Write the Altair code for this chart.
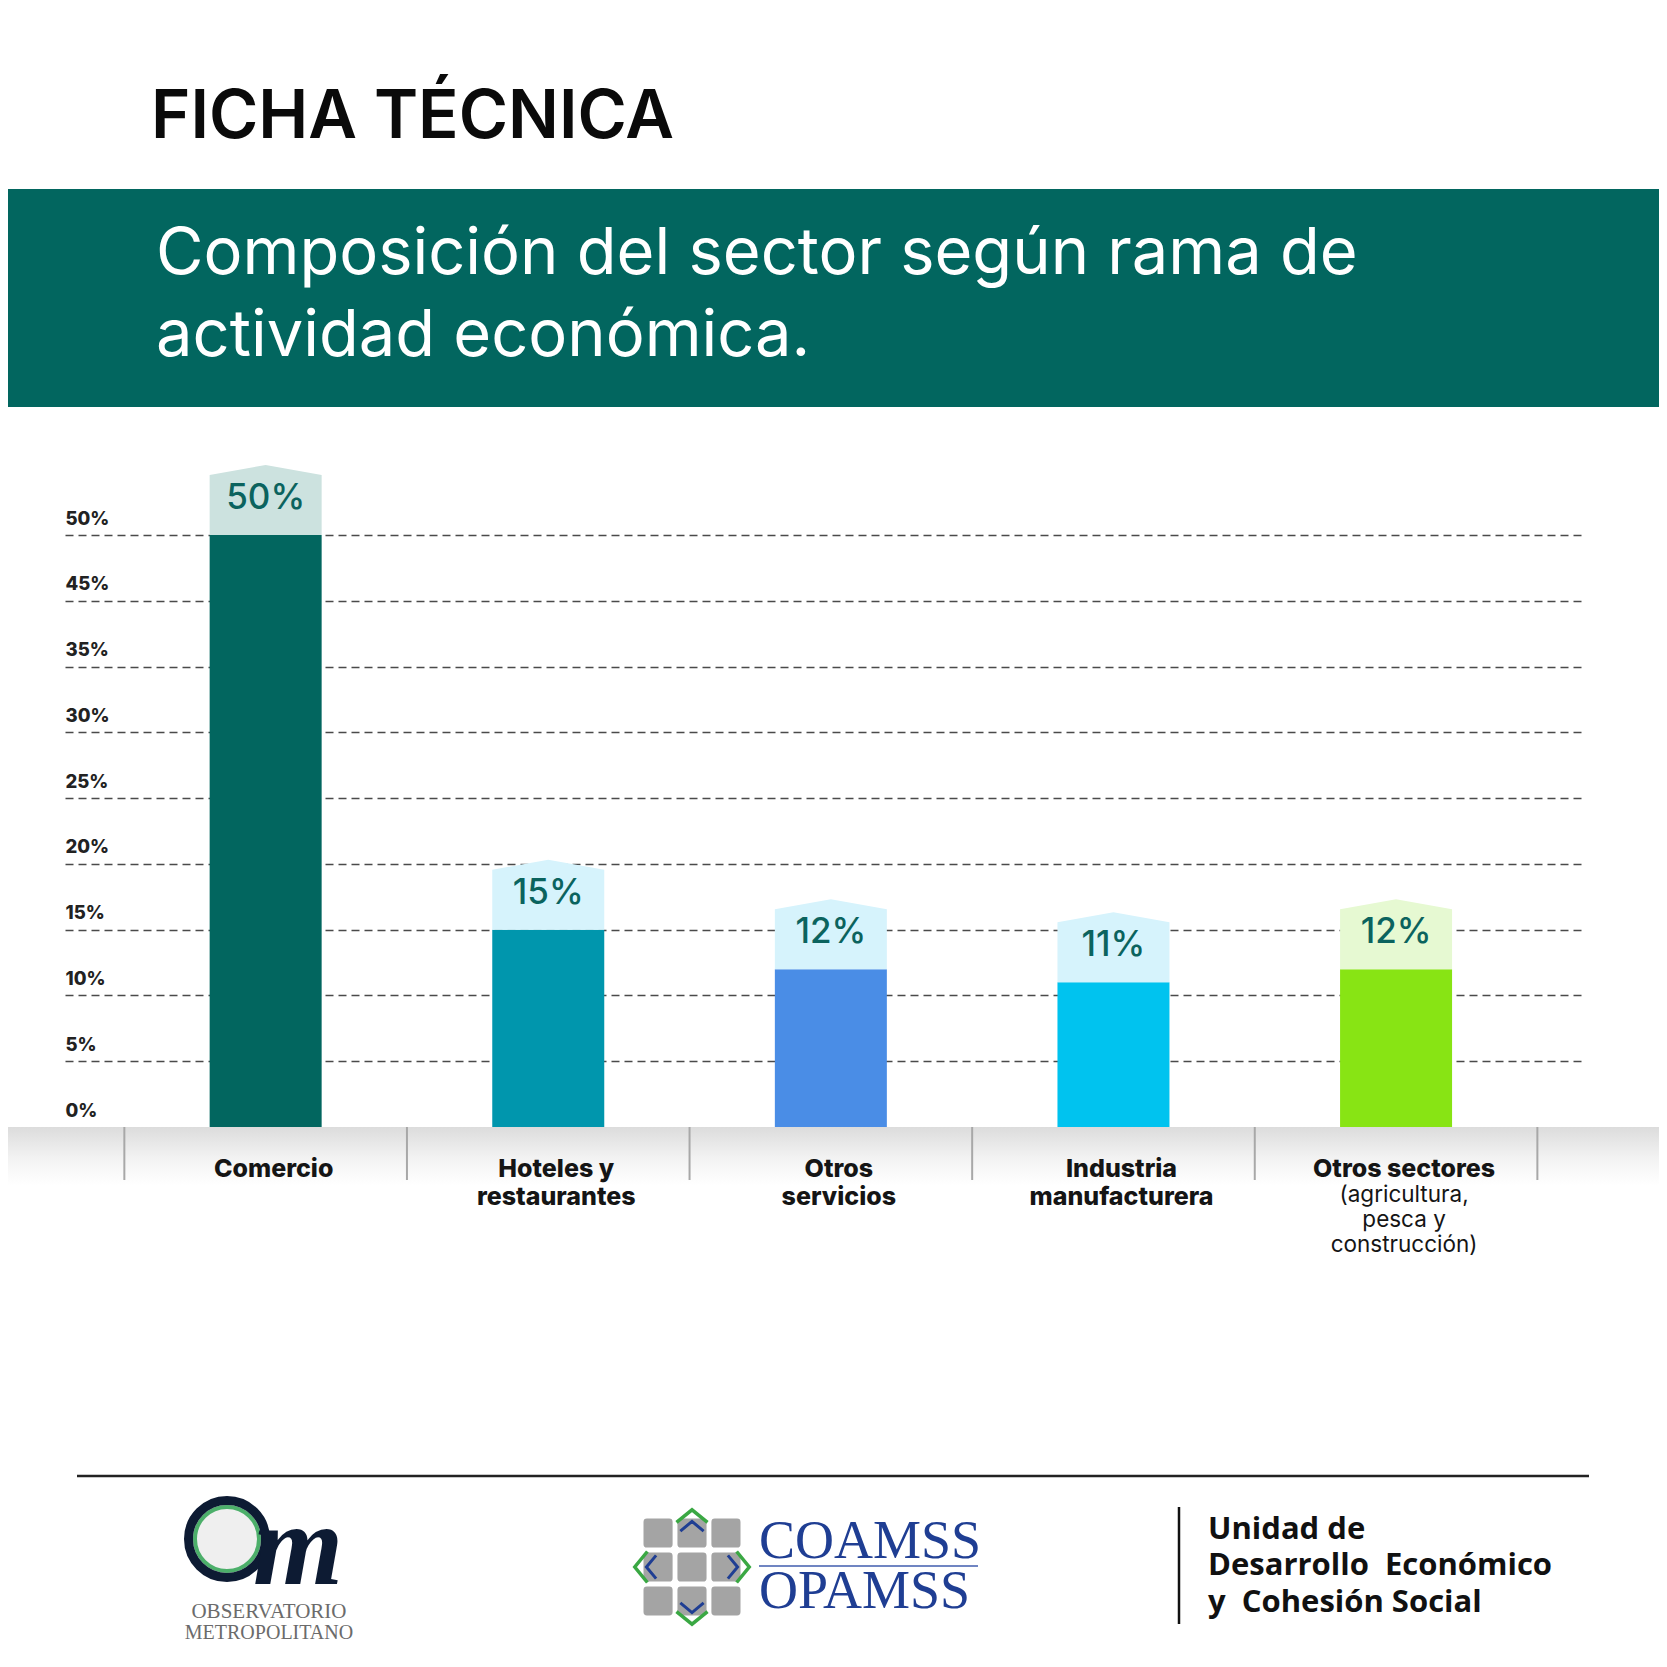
import altair as alt
import pandas as pd

# ---------------- data ----------------
categories = ["Comercio", "Hoteles y restaurantes", "Otros servicios",
              "Industria manufacturera", "Otros sectores"]
values = [50, 15, 12, 11, 12]
value_labels = ["50%", "15%", "12%", "11%", "12%"]
label_line1 = ["Comercio", "Hoteles y", "Otros", "Industria", "Otros sectores"]
label_line2 = ["", "restaurantes", "servicios", "manufacturera", ""]
note_line1 = ["", "", "", "", "(agricultura,"]
note_line2 = ["", "", "", "", "pesca y"]
note_line3 = ["", "", "", "", "construcción)"]
y_ticks = [0, 5, 10, 15, 20, 25, 30, 35, 45, 50]

header_title = "FICHA TÉCNICA"
subtitle_1 = "Composición del sector según rama de"
subtitle_2 = "actividad económica."
footer_om_1 = "OBSERVATORIO"
footer_om_2 = "METROPOLITANO"
footer_co_1 = "COAMSS"
footer_co_2 = "OPAMSS"
footer_unit = ["Unidad de", "Desarrollo\u00a0 Económico", "y\u00a0 Cohesión Social"]

# ---------------- styles ----------------
bar_colors = ["#02665F", "#0096AD", "#4A8DE6", "#00C3EF", "#88E414"]
cap_colors = ["#CCE2DF", "#D6F3FC", "#D6F3FC", "#D6F3FC", "#E6F9D2"]
teal = "#02665F"
label_teal = "#0B635E"

W, H = 1519, 592
PAD_L, PAD_T = 57, 527
TOTAL_W, TOTAL_H = 1651, 1645
step = H / 9.0

df = pd.DataFrame({
    "cat": categories, "value": values, "vlabel": value_labels,
    "l1": label_line1, "l2": label_line2,
    "n1": note_line1, "n2": note_line2, "n3": note_line3,
})
one = pd.DataFrame({"k": [0]})

xscale = alt.Scale(domain=categories, paddingInner=0, paddingOuter=0.1875, align=0.56)
yscale = alt.Scale(domain=[0, 35, 45, 50], range=[H, H - 7 * step, H - 8 * step, 0], nice=False)

X = alt.X("cat:N", sort=categories, scale=xscale, axis=None)

base = alt.Chart(df)
left_edge = -PAD_L
right_edge = TOTAL_W - PAD_L

# shadow under the baseline
shadow = alt.Chart(one).mark_rect(
    color=alt.Gradient(gradient="linear",
                       stops=[alt.GradientStop(color="#dcdcdc", offset=0),
                              alt.GradientStop(color="#f3f3f3", offset=0.55),
                              alt.GradientStop(color="#ffffff", offset=1)],
                       x1=0, x2=0, y1=0, y2=1)
).encode(x=alt.value(left_edge), x2=alt.value(right_edge), y=alt.value(H), y2=alt.value(H + 58))

bars = base.mark_bar(width=112).encode(
    x=X,
    y=alt.Y("value:Q", scale=yscale,
            axis=alt.Axis(values=y_ticks, title=None, domain=False, ticks=False, tickSize=0,
                          labelAlign="left", labelBaseline="bottom", labelPadding=0,
                          labelOffset=-7, labelExpr="datum.value + '%'",
                          labelFont="Inter", labelFontSize=18.5, labelFontWeight=800,
                          labelColor="#222222",
                          grid=True, gridColor="#4a4a4a", gridWidth=1.3, gridDash=[8, 5],
                          gridOpacity={"condition": {"test": "datum.value === 0", "value": 0},
                                       "value": 1})),
    color=alt.Color("cat:N", scale=alt.Scale(domain=categories, range=bar_colors), legend=None),
)

cap_path = "M-1,0L1,0L1,-1.07L0,-1.25L-1,-1.07Z"
caps = base.mark_point(shape=cap_path, size=112 * 112, filled=True, opacity=1, strokeWidth=0).encode(
    x=X,
    y=alt.Y("value:Q", scale=yscale),
    fill=alt.Fill("cat:N", scale=alt.Scale(domain=categories, range=cap_colors), legend=None),
)

vtext = base.mark_text(font="Inter", fontSize=35, fontWeight=500, color=label_teal,
                       baseline="middle", dy=-37).encode(
    x=X, y=alt.Y("value:Q", scale=yscale), text="vlabel:N")

sep = base.mark_rule(color="#a8a8a8", strokeWidth=2).encode(
    x=alt.X("cat:N", sort=categories, scale=xscale, axis=None, bandPosition=0),
    y=alt.value(H), y2=alt.value(H + 53))
sep_end = base.transform_filter(alt.datum.cat == categories[-1]).mark_rule(
    color="#a8a8a8", strokeWidth=2).encode(
    x=alt.X("cat:N", sort=categories, scale=xscale, axis=None, bandPosition=1),
    y=alt.value(H), y2=alt.value(H + 53))

bold_kw = dict(font="Inter", fontSize=25, fontWeight=800, color="#151515", baseline="middle", dx=8)
reg_kw = dict(font="Inter", fontSize=22.5, fontWeight=400, color="#151515", baseline="middle", dx=8)
cl1 = base.mark_text(**bold_kw).encode(x=X, y=alt.value(H + 42), text="l1:N")
cl2 = base.mark_text(**bold_kw).encode(x=X, y=alt.value(H + 70), text="l2:N")
cn1 = base.mark_text(**reg_kw).encode(x=X, y=alt.value(H + 68), text="n1:N")
cn2 = base.mark_text(**reg_kw).encode(x=X, y=alt.value(H + 93), text="n2:N")
cn3 = base.mark_text(**reg_kw).encode(x=X, y=alt.value(H + 118), text="n3:N")

# ---------------- header ----------------
title = alt.Chart(one).mark_text(text=header_title, font="Inter", fontSize=67, fontWeight=600,
                                 color="#0a0a0a", align="left", baseline="alphabetic").encode(
    x=alt.value(86), y=alt.value(-397))
band = alt.Chart(one).mark_rect(color=teal).encode(
    x=alt.value(left_edge), x2=alt.value(right_edge), y=alt.value(-346), y2=alt.value(-128))
sub1 = alt.Chart(one).mark_text(text=subtitle_1, font="Inter", fontSize=65, fontWeight=400,
                                color="#ffffff", align="left", baseline="alphabetic").encode(
    x=alt.value(91), y=alt.value(-261))
sub2 = alt.Chart(one).mark_text(text=subtitle_2, font="Inter", fontSize=65, fontWeight=400,
                                color="#ffffff", align="left", baseline="alphabetic").encode(
    x=alt.value(91), y=alt.value(-179))

# ---------------- footer ----------------
fline = alt.Chart(one).mark_rule(color="#222222", strokeWidth=2.5).encode(
    x=alt.value(12), x2=alt.value(1524), y=alt.value(941))

ring_outer = alt.Chart(one).mark_point(shape="circle", size=77 * 77, filled=False,
                                       stroke="#0d1b33", strokeWidth=9, opacity=1).encode(
    x=alt.value(162), y=alt.value(1004))
ring_inner = alt.Chart(one).mark_point(shape="circle", size=64 * 64, filled=False, fill="#efefef",
                                       stroke="#4caf6a", strokeWidth=4, opacity=1).encode(
    x=alt.value(162), y=alt.value(1004))
om_m = alt.Chart(one).mark_text(text="m", font="Liberation Serif", fontSize=116, fontStyle="italic",
                                fontWeight=700, color="#0d1b33", align="left",
                                baseline="alphabetic").encode(x=alt.value(188), y=alt.value(1049))
om1 = alt.Chart(one).mark_text(text=footer_om_1, font="Liberation Serif", fontSize=21,
                               color="#6b6b6b", align="center").encode(
    x=alt.value(204), y=alt.value(1077))
om2 = alt.Chart(one).mark_text(text=footer_om_2, font="Liberation Serif", fontSize=20,
                               color="#6b6b6b", align="center").encode(x=alt.value(204), y=alt.value(1098))


def rsq(cx, cy, h, r):
    return (f"M{cx-h+r},{cy-h}L{cx+h-r},{cy-h}Q{cx+h},{cy-h},{cx+h},{cy-h+r}"
            f"L{cx+h},{cy+h-r}Q{cx+h},{cy+h},{cx+h-r},{cy+h}"
            f"L{cx-h+r},{cy+h}Q{cx-h},{cy+h},{cx-h},{cy+h-r}"
            f"L{cx-h},{cy-h+r}Q{cx-h},{cy-h},{cx-h+r},{cy-h}Z")


grid_path = "".join(rsq(cx, cy, 0.3, 0.07) for cx in (-0.7, 0, 0.7) for cy in (-0.7, 0, 0.7))
blue_chev = ("M-0.24,-0.74L0,-0.94L0.24,-0.74"
             "M-0.24,0.74L0,0.94L0.24,0.74"
             "M-0.74,-0.24L-0.94,0L-0.74,0.24"
             "M0.74,-0.24L0.94,0L0.74,0.24")
green_chev = ("M-0.32,-0.92L0,-1.18L0.32,-0.92"
              "M-0.32,0.92L0,1.18L0.32,0.92"
              "M-0.92,-0.32L-1.18,0L-0.92,0.32"
              "M0.92,-0.32L1.18,0L0.92,0.32")
lx, ly = 627, 1032
co_grid = alt.Chart(one).mark_point(shape=grid_path, size=97 * 97, filled=True, color="#a4a4a4",
                                    opacity=1, strokeWidth=0).encode(x=alt.value(lx), y=alt.value(ly))
co_green = alt.Chart(one).mark_point(shape=green_chev, size=97 * 97, filled=False, stroke="#3aa843",
                                     strokeWidth=3.5, opacity=1).encode(x=alt.value(lx), y=alt.value(ly))
co_blue = alt.Chart(one).mark_point(shape=blue_chev, size=97 * 97, filled=False, stroke="#1f3e93",
                                    strokeWidth=3, opacity=1).encode(x=alt.value(lx), y=alt.value(ly))
co1 = alt.Chart(one).mark_text(text=footer_co_1, font="Liberation Serif", fontSize=54, color="#1f3e93",
                               align="left", baseline="alphabetic").encode(x=alt.value(694), y=alt.value(1023))
co2 = alt.Chart(one).mark_text(text=footer_co_2, font="Liberation Serif", fontSize=54, color="#1f3e93",
                               align="left", baseline="alphabetic").encode(x=alt.value(694), y=alt.value(1073))
co_line = alt.Chart(one).mark_rule(color="#7085c2", strokeWidth=2).encode(
    x=alt.value(694), x2=alt.value(913), y=alt.value(1031))

vline = alt.Chart(one).mark_rule(color="#111111", strokeWidth=2.5).encode(
    x=alt.value(1114), y=alt.value(972), y2=alt.value(1089))
unit_texts = [
    alt.Chart(one).mark_text(text=t, font="Open Sans", fontSize=31, fontWeight=700, color="#111111",
                             align="left", baseline="alphabetic").encode(x=alt.value(1143), y=alt.value(yy))
    for t, yy in zip(footer_unit, [1004, 1040, 1077])
]

chart = alt.layer(
    shadow, bars, caps, vtext, sep, sep_end, cl1, cl2, cn1, cn2, cn3,
    title, band, sub1, sub2,
    fline, ring_inner, ring_outer, om_m, om1, om2,
    co_grid, co_green, co_blue, co1, co2, co_line,
    vline, *unit_texts
).properties(
    width=W, height=H,
    padding={"left": PAD_L, "top": PAD_T, "right": TOTAL_W - PAD_L - W,
             "bottom": TOTAL_H - PAD_T - H},
    autosize=alt.AutoSizeParams(type="none"),
    background="#ffffff",
).resolve_scale(color="independent", fill="independent").configure_view(strokeWidth=0)

chart.save("out.html", embed_options={"renderer": "svg", "actions": False})
